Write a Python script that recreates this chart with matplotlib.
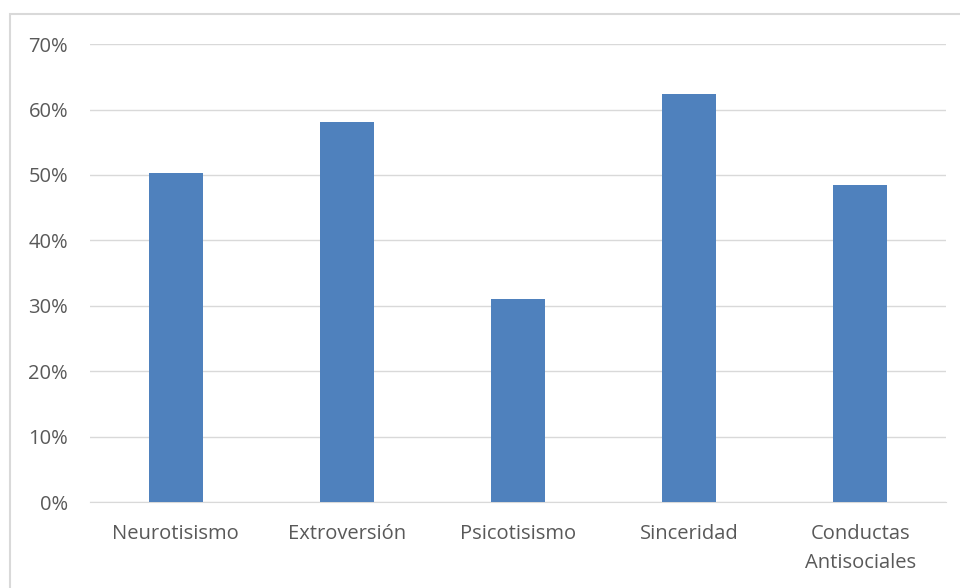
import matplotlib.pyplot as plt
from matplotlib.patches import Rectangle
from matplotlib.ticker import PercentFormatter

# Datos
categorias = ['Neurotisismo', 'Extroversión', 'Psicotisismo', 'Sinceridad', 'Conductas\nAntisociales']
valores = [50.3, 58.1, 31.0, 62.4, 48.5]

plt.rcParams['font.family'] = ['Open Sans', 'DejaVu Sans']

fig = plt.figure(figsize=(9.6, 5.88), dpi=100)
ax = fig.add_axes([0.094, 0.146, 0.891, 0.779])

# Marco exterior gris (como en Excel)
fig.patches.append(Rectangle((10 / 960, -0.1), 1.2, (588 - 14) / 588 + 0.1,
                             transform=fig.transFigure, fill=False,
                             edgecolor='#d9d9d9', linewidth=1.5))

x = range(len(categorias))
ax.bar(x, valores, width=0.316, color='#4f81bd', zorder=3)

ax.set_xlim(-0.5, len(categorias) - 0.5)
ax.set_ylim(0, 70)
ax.set_yticks(range(0, 71, 10))
ax.yaxis.set_major_formatter(PercentFormatter(decimals=0))
ax.set_xticks(list(x))
ax.set_xticklabels(categorias, linespacing=1.6)

ax.grid(axis='y', color='#d9d9d9', linewidth=1, zorder=0)
for lado in ['top', 'right', 'left']:
    ax.spines[lado].set_visible(False)
ax.spines['bottom'].set_color('#d9d9d9')
ax.tick_params(axis='both', length=0, labelsize=14.5, colors='#595959')
ax.tick_params(axis='x', pad=16)
ax.tick_params(axis='y', pad=16)

plt.savefig('out.png', dpi=100)
